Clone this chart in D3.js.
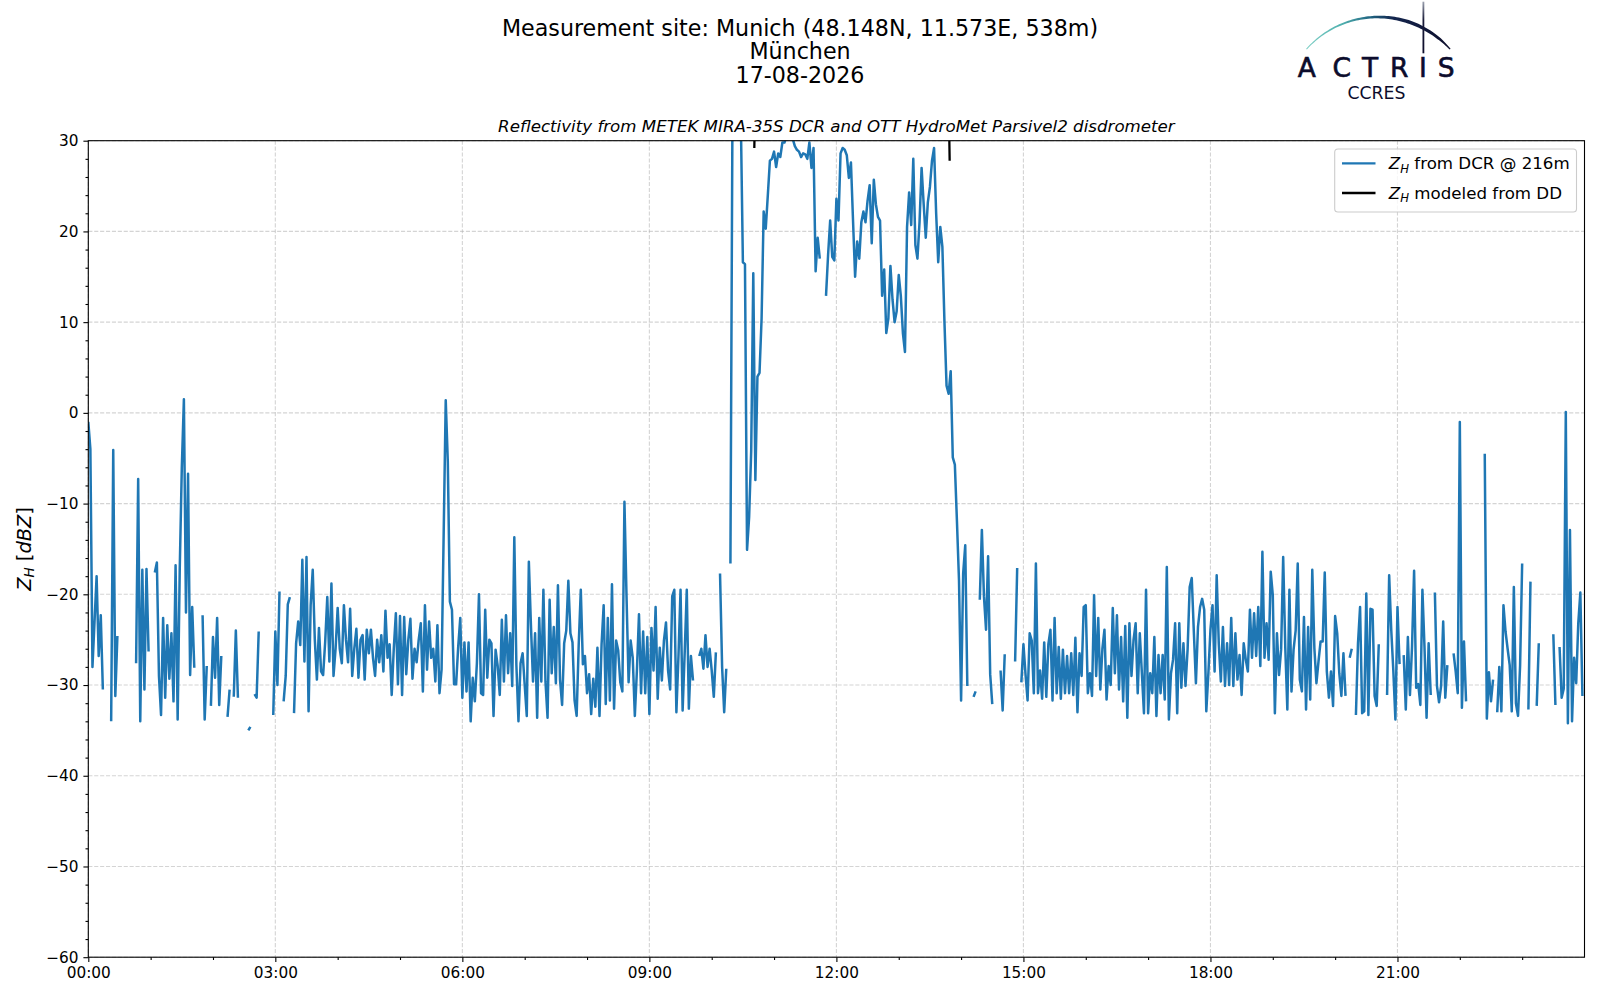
<!DOCTYPE html>
<html>
<head>
<meta charset="utf-8">
<script src="https://cdn.jsdelivr.net/npm/d3@7"></script>
<style>
  body { margin: 0; background: #ffffff; }
  svg text { font-family: 'DejaVu Sans', sans-serif; }
</style>
</head>
<body>
<svg id="chart" width="1600" height="1000"></svg>
<script>
// ---------------- DATA ----------------
// DCR reflectivity at 216 m, one value every 2 minutes from 00:00 (null = no data)
const sampleStepMin = 2;
const zhDCR = [
// 00:00
-1, -4, -28, -23, -18, -26.8, -22.3, -30.5, null, null, null, -34, -4.1, -31.2, -24.6,
// 00:30
null, null, null, null, null, null, null, null, -27.6, -7.3, -34, -17.3, -30.5, -17.2, -26.3,
// 01:00
null, null, -17.6, -16.5, -29, -33.3, -22.6, -31.4, -23.4, -29.3, -24.3, -31.8, -16.8, -33.8, -17.3,
// 01:30
-6, 1.5, -22, -6.7, -28.9, -21.4, -28.1, null, null, null, -22.3, -33.8, -27.9, null, -32.3,
// 02:00
-24.7, -29.2, -22.6, -32.2, -26.8, null, null, -33.5, -30.5, null, -31.3, -24, -31.4, null, null,
// 02:30
null, null, -35, -34.6, null, -31, -31.4, -24.1, null, null, null, null, null, null, -33.3,
// 03:00
-24.1, -30, -19.7, null, -31.8, -29, -21.1, -20.3, null, -33.1, -25.4, -23, -25.6, -16.2, -27.4,
// 03:30
-15.9, -32.9, -21.2, -17.3, -25, -29.4, -23.7, -28.5, -28.9, -25.2, -20.3, -27.4, -18.8, -29, -26,
// 04:00
-21.5, -26, -27.6, -21.2, -25, -27.5, -21.6, -29, -26, -23.8, -29.2, -25, -24.5, -29.4, -23.9,
// 04:30
-26.5, -23.9, -27, -29, -25, -27.5, -24.5, -28.5, -21.8, -27, -25.5, -31.1, -26, -22.1, -29.9,
// 05:00
-22.4, -31.1, -22.5, -28.8, -25, -22.7, -29.3, -26, -27.5, -25, -23.2, -30.7, -21.2, -28.3, -23,
// 05:30
-27, -26, -29.6, -23.4, -30.9, -28.3, -13.5, 1.4, -5.4, -20.8, -21.7, -29.9, -29.9, -25.8, -22.6,
// 06:00
-31.4, -25.3, -30.7, -25.3, -34, -29.2, -31.8, -27.6, -20, -30.9, -31.1, -21.7, -29.2, -25, -25.4,
// 06:30
-33.4, -26.1, -27.9, -31.1, -22.8, -29.6, -22.3, -28.7, -24.3, -30.1, -13.7, -27.8, -34, -27.6, -26.5,
// 07:00
-30, -33.4, -16.4, -23.4, -29.6, -24.3, -33.6, -22.6, -29.6, -19.5, -29.6, -33.6, -20.6, -28.7, -23.6,
// 07:30
-29.8, -19, -29.4, -32.2, -25.4, -24, -18.5, -24.3, -25.3, -31.7, -33.4, -25.5, -19.5, -27.7, -26.8,
// 08:00
-30.9, -28.8, -33.2, -29.3, -32.4, -25.9, -33.4, -25.5, -21.2, -32.1, -22.6, -31.7, -18.9, -32.6, -25.1,
// 08:30
-26.2, -29.7, -30.7, -9.8, -20.2, -29.7, -25.1, -27, -33.4, -28.4, -22.2, -30.9, -24.1, -30.9, -24.7,
// 09:00
-33.2, -23.7, -28.4, -21.4, -31.5, -25.9, -29.5, -25.1, -23.1, -28.4, -30.5, -20.2, -19.5, -33, -26.8,
// 09:30
-19.5, -32.8, -26.4, -19.5, -32.6, -26.8, -29.5, null, null, -26.8, -26, -28.2, -24.5, -28, -26,
// 10:00
-28.4, -31.3, -26.4, null, -17.7, -28, -33, -28.2, null, -16.6, 34, 35.5, 36, 35, 32.5,
// 10:30
16.6, 16.4, -15.1, -11.5, -4.2, 15.4, -7.4, 4, 4.4, 10.4, 22.2, 20.3, 24, 27.8, 28,
// 11:00
28.8, 27.1, 28.6, 28.2, 29.8, 29.8, 30.5, 31, 30.5, 30.2, 29.4, 29, 28.8, 28.2, 28.6,
// 11:30
28.5, 28, 29.8, 27, 29.2, 15.6, 19.3, 17, null, null, 12.9, 17.4, 21.2, 17.2, 16.8,
// 12:00
23.6, 21.2, 28.6, 29.2, 29, 28.4, 25.9, 27.6, 21.2, 15, 18.9, 17, 21, 22.2, 21,
// 12:30
23.4, 25.1, 18.7, 25.7, 23, 21.6, 21.2, 12.9, 15.8, 8.8, 10.4, 16.2, 12.5, 10, 11.2,
// 13:00
15.2, 12.9, 8.8, 6.7, 20.5, 24.3, 20.7, 28, 18.5, 17, 21, 27, 23, 19.3, 23.2,
// 13:30
24.9, 27.8, 29.2, 22, 16.6, 20.5, 18.3, 10, 3, 2.1, 4.6, -4.9, -5.7, -11.9, -18.5,
// 14:00
-31.7, -17.7, -14.6, -30.1, null, null, -31.3, -30.7, null, -20.6, -12.9, -20.2, -23.9, -15.8, -28.8,
// 14:30
-32.1, null, null, null, -28.4, -32.8, -26.6, null, null, null, null, -27.4, -17.1, null, -29.7,
// 15:00
-25.5, -28.8, -31.7, -24.3, -25.1, -30.9, -16.6, -30.9, -28.4, -31.5, -25.3, -31.3, -25.5, -23.9, -31.7,
// 15:30
-22.6, -30.9, -25.8, -31.5, -26.1, -30.9, -26.8, -30.9, -26.5, -31.1, -24.8, -33, -26.5, -29, -21.4,
// 16:00
-21.2, -30.9, -28.7, -31.2, -20.1, -29, -22.6, -30.5, -26, -23.9, -31.6, -27.9, -30, -21.5, -28.7,
// 16:30
-22.3, -30.5, -24.7, -31.8, -23.5, -33.6, -23.2, -29, -25, -23.2, -30.9, -24.3, -28.7, -33.1, -19.5,
// 17:00
-33.1, -28.7, -30.9, -24.7, -33.4, -26.7, -30.9, -26.7, -31.6, -17, -33.8, -28.7, -27.2, -23.2, -33.1,
// 17:30
-23.2, -30.3, -25.4, -30.1, -26.1, -19.2, -18.2, -24.1, -29.8, -23.6, -21.4, -20.5, -21.7, -32.9, -28.7,
// 18:00
-23.9, -21.2, -28.5, -17.9, -25.4, -29.6, -23.6, -30.1, -25.4, -30, -22.6, -30.1, -24.3, -29.4, -26.7,
// 18:30
-31.1, -25.4, -27.2, -28.5, -21.7, -27, -22.1, -26.8, -21.4, -27.9, -15.3, -27, -23.2, -27.2, -17.5,
// 19:00
-20.1, -33.1, -24.3, -28.9, -26.1, -15.9, -25.8, -32.7, -19.5, -30.7, -26.1, -24, -16.6, -29.4, -30.7,
// 19:30
-22.5, -32.7, -23.6, -31.6, -17.3, -25.9, -29.8, -27.4, -25.2, -25.2, -17.6, -28.5, -31.4, -28.5, -32.3,
// 20:00
-22.4, -24.3, -28.7, -31.2, -26.5, -31.2, null, -27, -26, null, -33.3, -25.4, -21.4, -33.1, -32.9,
// 20:30
-19.9, -33.3, -21.6, -21.7, -31.2, -32.3, -25.5, null, null, null, -31.1, -17.9, -23.9, -28.4, -33.8,
// 21:00
-21.4, -27.7, null, -26.7, -32.7, -24.7, -31.1, -25.8, -17.4, -30.3, -29.9, -32.2, -19.5, -25.8, -33.6,
// 21:30
-25.4, -31.1, null, -19.8, -30.1, -31.9, -30.1, -23, -31.4, -27.8, null, null, -26.5, -28.5, -30.9,
// 22:00
-1, -32.5, -25.2, -31.8, null, null, null, null, null, null, null, null, -4.5, -33.7, -28.6,
// 22:30
-31.8, -29.4, null, -33, -28, -32.9, -21.2, -24.1, -26, -27.8, -32.9, -19.2, -32, -33.4, -27.9,
// 23:00
-16.6, null, null, -32.7, -18.6, null, null, -32.3, -25.4, null, null, null, null, null, null,
// 23:30
-24.4, -32.2, null, -25.8, -31.4, -30.4, 0.1, -34.2, -12.9, -34, -27, -29.8, -23.2, -19.8, -31.2
];

// Reflectivity modeled from the disdrometer (minutes after 00:00, dBZ)
const ddTimeMin = [641, 642, 660, 700, 740, 780, 810, 828, 829];
const zhDD = [29.2, 36, 38.5, 41, 40, 39.5, 37, 35, 27.8];

const xMajorMin = [0, 180, 360, 540, 720, 900, 1080, 1260];
const xTickLabels = ["00:00", "03:00", "06:00", "09:00", "12:00", "15:00", "18:00", "21:00"];
const xMinorMin = [60, 120, 240, 300, 420, 480, 600, 660, 780, 840, 960, 1020, 1140, 1200, 1320, 1380];
const yMajor = [30, 20, 10, 0, -10, -20, -30, -40, -50, -60];
const yMinor = [28, 26, 24, 22, 18, 16, 14, 12, 8, 6, 4, 2, -2, -4, -6, -8, -12, -14, -16, -18,
  -22, -24, -26, -28, -32, -34, -36, -38, -42, -44, -46, -48, -52, -54, -56, -58];

const titleLines = ["Measurement site: Munich (48.148N, 11.573E, 538m)", "München", "17-08-2026"];
const subtitle = "Reflectivity from METEK MIRA-35S DCR and OTT HydroMet Parsivel2 disdrometer";
const legendRest = [" from DCR @ 216m", " modeled from DD"];
const seriesColors = ["#1f77b4", "#000000"];

// ---------------- LAYOUT ----------------
const P = { left: 88.3, right: 1584.5, top: 140.7, bottom: 957.2 };
const svg = d3.select("#chart");
svg.append("rect").attr("width", 1600).attr("height", 1000).attr("fill", "#ffffff");

const x = d3.scaleLinear().domain([0, 1440]).range([P.left, P.right]);
const y = d3.scaleLinear().domain([-60, 30]).range([P.bottom, P.top]);

// grid
const grid = svg.append("g");
grid.selectAll("line.gx").data(xMajorMin).join("line")
  .attr("x1", d => x(d)).attr("x2", d => x(d)).attr("y1", P.top).attr("y2", P.bottom)
  .attr("stroke", "#b0b0b0").attr("stroke-opacity", 0.55).attr("stroke-width", 1.1)
  .attr("stroke-dasharray", "4.1,1.8");
grid.selectAll("line.gy").data(yMajor).join("line")
  .attr("x1", P.left).attr("x2", P.right).attr("y1", d => y(d)).attr("y2", d => y(d))
  .attr("stroke", "#b0b0b0").attr("stroke-opacity", 0.55).attr("stroke-width", 1.1)
  .attr("stroke-dasharray", "4.1,1.8");

// clip
svg.append("defs").append("clipPath").attr("id", "plotClip")
  .append("rect").attr("x", P.left).attr("y", P.top)
  .attr("width", P.right - P.left).attr("height", P.bottom - P.top);

const dcrData = zhDCR.map((v, i) => ({ t: i * sampleStepMin, v }));
const ddData = ddTimeMin.map((t, i) => ({ t, v: zhDD[i] }));
const line = d3.line().defined(d => d.v !== null && d.v !== undefined)
  .x(d => x(d.t)).y(d => y(d.v));

const plotG = svg.append("g").attr("clip-path", "url(#plotClip)");
plotG.append("path").datum(dcrData).attr("d", line)
  .attr("fill", "none").attr("stroke", seriesColors[0]).attr("stroke-width", 2.5)
  .attr("stroke-linejoin", "round").attr("stroke-linecap", "butt");
plotG.append("path").datum(ddData).attr("d", line)
  .attr("fill", "none").attr("stroke", seriesColors[1]).attr("stroke-width", 2.3);

// axes
const fmtY = d => d < 0 ? "\u2212" + Math.abs(d) : String(d);
function styleAxis(g) {
  g.select(".domain").remove();
  g.selectAll(".tick line").attr("stroke", "#000").attr("stroke-width", 1.1);
  g.selectAll(".tick text").attr("fill", "#000").attr("font-size", 15.3)
    .attr("font-family", "'DejaVu Sans', sans-serif");
}
svg.append("g").attr("transform", `translate(0,${P.bottom})`)
  .call(d3.axisBottom(x).tickValues(xMajorMin).tickFormat((d, i) => xTickLabels[i])
    .tickSize(4.9).tickPadding(4.6).tickSizeOuter(0)).call(styleAxis);
svg.append("g").attr("transform", `translate(0,${P.bottom})`)
  .call(d3.axisBottom(x).tickValues(xMinorMin).tickFormat("")
    .tickSize(2.8).tickSizeOuter(0)).call(styleAxis);
svg.append("g").attr("transform", `translate(${P.left},0)`)
  .call(d3.axisLeft(y).tickValues(yMajor).tickFormat(fmtY)
    .tickSize(4.9).tickPadding(4.9).tickSizeOuter(0)).call(styleAxis);
svg.append("g").attr("transform", `translate(${P.left},0)`)
  .call(d3.axisLeft(y).tickValues(yMinor).tickFormat("")
    .tickSize(2.8).tickSizeOuter(0)).call(styleAxis);

// spines
svg.append("rect").attr("x", P.left).attr("y", P.top)
  .attr("width", P.right - P.left).attr("height", P.bottom - P.top)
  .attr("fill", "none").attr("stroke", "#000").attr("stroke-width", 1.1);

// y label
const yl = svg.append("text").attr("transform", `translate(30.5,${(P.top + P.bottom) / 2}) rotate(-90)`)
  .attr("text-anchor", "middle").attr("font-size", 19.4).attr("fill", "#000");
yl.append("tspan").attr("font-style", "italic").text("Z");
yl.append("tspan").attr("font-style", "italic").attr("font-size", 13.6).attr("dy", 3.9).text("H");
yl.append("tspan").attr("dy", -3.9).text(" [");
yl.append("tspan").attr("font-style", "italic").text("dBZ");
yl.append("tspan").text("]");

// titles
svg.append("g").selectAll("text").data(titleLines).join("text")
  .attr("x", 800).attr("y", (d, i) => 35.9 + i * 23.5)
  .attr("text-anchor", "middle").attr("font-size", 22.2).attr("fill", "#000").text(d => d);
svg.append("text").attr("x", (P.left + P.right) / 2).attr("y", 131.8)
  .attr("text-anchor", "middle").attr("font-size", 16.67).attr("font-style", "italic")
  .attr("fill", "#000").text(subtitle);

// legend
const lg = svg.append("g");
lg.append("rect").attr("x", 1334.7).attr("y", 149).attr("width", 241.8).attr("height", 63)
  .attr("rx", 3.3).attr("fill", "#ffffff").attr("fill-opacity", 0.8)
  .attr("stroke", "#cccccc").attr("stroke-width", 1.1);
const rowsY = [163.3, 193];
rowsY.forEach((ry, i) => {
  lg.append("line").attr("x1", 1342).attr("x2", 1375.5).attr("y1", ry).attr("y2", ry)
    .attr("stroke", seriesColors[i]).attr("stroke-width", 2.3);
  const t = lg.append("text").attr("x", 1388.8).attr("y", ry + 6)
    .attr("font-size", 16.67).attr("fill", "#000");
  t.append("tspan").attr("font-style", "italic").text("Z");
  t.append("tspan").attr("font-style", "italic").attr("font-size", 11.7).attr("dy", 3.4).text("H");
  t.append("tspan").attr("dy", -3.4).text(legendRest[i]);
});

// ---------------- LOGO (ACTRIS CCRES) ----------------
const logo = svg.append("g");
const defs = svg.select("defs");
const ag = defs.append("linearGradient").attr("id", "arcGrad")
  .attr("gradientUnits", "userSpaceOnUse").attr("x1", 1306).attr("x2", 1451).attr("y1", 0).attr("y2", 0);
[[0, "#7fd0c6"], [0.25, "#4fb0ae"], [0.45, "#1f6280"], [0.6, "#14264e"], [1, "#0d0d2b"]]
  .forEach(s => ag.append("stop").attr("offset", s[0]).attr("stop-color", s[1]));
const vg = defs.append("linearGradient").attr("id", "vGrad")
  .attr("x1", 0).attr("x2", 0).attr("y1", 0).attr("y2", 1);
[[0, "#9aa0ae"], [0.35, "#1a1c3a"], [1, "#0d0d2b"]]
  .forEach(s => vg.append("stop").attr("offset", s[0]).attr("stop-color", s[1]));

const cx = 1378.3, cy = 113.3, r = 96.3;
const phL = Math.atan2(-64, -71.6), phR = Math.atan2(-64, 71.7);
const wS = d3.scaleLinear().domain([0, 0.4, 0.7, 0.9, 1]).range([1.0, 2.2, 3.6, 2.8, 1.2]);
const outer = [], inner = [];
for (let i = 0; i <= 80; i++) {
  const s = i / 80;
  const ph = phL + s * (phR - phL);
  const w = wS(s);
  outer.push([cx + (r + w / 2) * Math.cos(ph), cy + (r + w / 2) * Math.sin(ph)]);
  inner.push([cx + (r - w / 2) * Math.cos(ph), cy + (r - w / 2) * Math.sin(ph)]);
}
const crescent = "M" + outer.map(p => p.join(",")).join("L") + "L" +
  inner.reverse().map(p => p.join(",")).join("L") + "Z";
logo.append("path").attr("d", crescent).attr("fill", "url(#arcGrad)");
logo.append("rect").attr("x", 1422.5).attr("y", 1.7).attr("width", 1.8).attr("height", 51.6)
  .attr("fill", "url(#vGrad)");
const letterX = [1306.7, 1341.7, 1370, 1399.3, 1423, 1446.2];
const at = logo.append("text").attr("y", 77.3).attr("font-size", 26.5)
  .attr("fill", "#0c0c2c").attr("stroke", "#0c0c2c").attr("stroke-width", 0.6)
  .attr("text-anchor", "middle");
"ACTRIS".split("").forEach((c, i) => at.append("tspan").attr("x", letterX[i]).text(c));
logo.append("text").attr("x", 1376.4).attr("y", 99).attr("text-anchor", "middle")
  .attr("font-family", "'Open Sans', sans-serif").attr("font-size", 17.3)
  .attr("fill", "#0c0c2c").text("CCRES");
</script>
</body>
</html>
